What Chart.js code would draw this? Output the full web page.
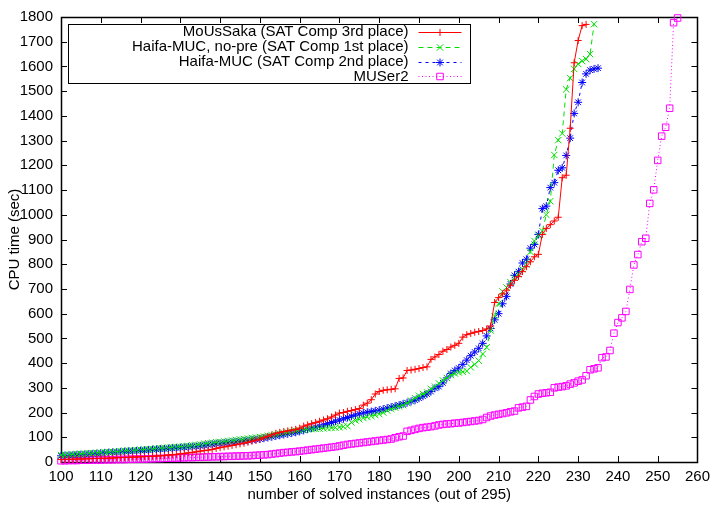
<!DOCTYPE html>
<html><head><meta charset="utf-8">
<script src="https://cdn.jsdelivr.net/npm/chart.js@4/dist/chart.umd.min.js"></script>
<style>html,body{margin:0;padding:0;background:#fff;}canvas{display:block;}</style>
</head><body>
<canvas id="c" width="716" height="506"></canvas>
<script>
// ---- data ----
const firstInstance = 100; // first solved-instance number shown (x of first value in each series)
const seriesNames = [
  'MoUsSaka (SAT Comp 3rd place)',
  'Haifa-MUC, no-pre (SAT Comp 1st place)',
  'Haifa-MUC (SAT Comp 2nd place)',
  'MUSer2'
];
const xTicks = [100,110,120,130,140,150,160,170,180,190,200,210,220,230,240,250,260];
const yTicks = [0,100,200,300,400,500,600,700,800,900,1000,1100,1200,1300,1400,1500,1600,1700,1800];

// CPU time (sec) per solved instance, starting at instance 100
const mousaka = [
  10,10,11,11,12,12,13,13,14,14, 15,15,16,16,17,18,18,19,20,20,
  21,22,22,23,24,25,26,28,29,31, 33,35,37,39,41,44,46,48,51,55,
  58,61,64,67,70,73,76,80,84,88, 92,98,104,110,116,120,123,126,129,132,
  137,145,150,155,160,165,170,175,182,190, 198,200,205,208,212,216,230,238,252,275,
  285,290,292,294,296,338,340,370,372,375, 378,382,385,415,425,435,448,455,465,472,
  480,505,515,520,525,528,532,538,550,645, 665,680,695,715,735,750,770,790,810,830,
  840,920,945,960,975,990,1150,1160,1350,1615, 1705,1765,1770
];
const haifaNoPre = [
  28,29,30,31,32,33,34,35,36,37, 38,39,40,41,42,44,45,46,47,48,
  50,51,52,53,55,56,57,58,60,61, 62,64,65,67,69,71,74,76,78,80,
  81,83,85,87,89,91,93,95,97,99, 101,103,106,108,111,114,117,120,123,126,
  128,130,132,133,134,135,136,137,138,139, 141,143,145,160,168,173,178,182,186,190,
  194,200,208,215,220,225,230,238,248,258, 268,275,282,296,305,318,330,340,352,358,
  362,365,368,383,395,410,437,464,532,590, 640,690,706,727,745,760,780,800,850,894,
  915,934,1000,1055,1242,1302,1329,1507,1553,1590, 1610,1622,1630,1650,1771
];
const haifa = [
  25,26,27,28,29,30,31,32,33,34, 36,37,38,39,40,41,42,43,44,45,
  46,47,48,50,51,52,53,54,56,57, 58,59,61,62,63,65,67,70,72,74,
  75,77,78,80,81,83,85,87,89,91, 93,96,99,102,105,108,111,114,117,120,
  124,128,133,137,141,145,150,155,160,165, 170,175,180,185,190,195,198,201,204,207,
  210,214,218,222,226,230,235,240,245,250, 258,266,275,285,298,305,320,340,358,370,
  380,395,412,430,445,460,480,510,540,575, 600,640,670,720,755,770,805,820,865,880,
  920,1025,1035,1110,1130,1180,1190,1240,1310,1410, 1455,1535,1570,1585,1590,1593
];
const muser2 = [
  5,5,6,6,6,7,7,7,8,8, 8,9,9,9,10,10,10,11,11,12,
  12,12,13,13,14,14,15,15,16,16, 17,17,18,18,19,19,20,20,21,21,
  22,22,23,23,24,24,25,25,26,27, 28,29,30,32,34,36,38,39,41,42,
  44,46,48,50,52,54,56,58,60,62, 65,68,71,73,75,77,79,81,83,85,
  87,89,91,93,98,102,105,124,128,132, 136,139,141,143,146,150,152,154,155,157,
  158,160,162,164,166,168,172,180,186,190, 193,196,199,203,206,219,222,225,251,265,
  275,278,280,282,300,303,305,308,315,320, 327,332,349,373,377,381,422,425,451,521,
  564,583,609,698,797,839,891,905,1046,1101, 1220,1318,1354,1431,1777,1796
];

const colors = ['#ff0000', '#00e000', '#0000ff', '#ff00ff'];
const pointStyles = ['cross', 'crossRot', 'star', 'rect'];
const pointRadii = [3.5, 4.5, 4, 4.6];
const dashes = [[], [5, 4], [3, 4], [1, 2.5]];
const seriesValues = [mousaka, haifaNoPre, haifa, muser2];

const FONT = 'Liberation Sans, Arial, Helvetica, sans-serif';

function toPoints(values) {
  return values.map((v, i) => ({x: firstInstance + i, y: v}));
}

const datasets = seriesValues.map((vals, k) => ({
  label: seriesNames[k],
  data: toPoints(vals),
  borderColor: colors[k],
  backgroundColor: 'rgba(0,0,0,0)',
  borderWidth: 1,
  borderDash: dashes[k],
  pointStyle: pointStyles[k],
  pointRadius: pointRadii[k],
  pointBorderWidth: 1,
  pointBorderColor: colors[k],
  pointBackgroundColor: 'rgba(0,0,0,0)',
  tension: 0,
  fill: false,
  clip: false
}));

const framePlugin = {
  id: 'frame',
  beforeDatasetsDraw(chart) {
    const {ctx, chartArea: a, scales} = chart;
    ctx.save();
    ctx.strokeStyle = '#000';
    ctx.lineWidth = 1;
    ctx.setLineDash([]);
    const L = 6;
    ctx.beginPath();
    xTicks.forEach(t => {
      const px = Math.round(scales.x.getPixelForValue(t)) + 0.5;
      ctx.moveTo(px, a.bottom); ctx.lineTo(px, a.bottom - L);
      ctx.moveTo(px, a.top); ctx.lineTo(px, a.top + L);
    });
    yTicks.forEach(t => {
      const py = Math.round(scales.y.getPixelForValue(t)) + 0.5;
      ctx.moveTo(a.left, py); ctx.lineTo(a.left + L, py);
      ctx.moveTo(a.right, py); ctx.lineTo(a.right - L, py);
    });
    ctx.stroke();
    ctx.lineWidth = 1.5;
    ctx.strokeRect(Math.round(a.left) + 0.5, Math.round(a.top) + 0.5,
                   Math.round(a.right - a.left), Math.round(a.bottom - a.top));
    ctx.restore();
  },
  afterDatasetsDraw(chart) {
    const {ctx, chartArea: a} = chart;
    const boxL = a.left + 7.5, boxT = a.top + 7.5, boxW = 402, boxH = 59;
    ctx.save();
    ctx.fillStyle = '#fff';
    ctx.fillRect(boxL, boxT, boxW, boxH);
    ctx.strokeStyle = '#000';
    ctx.lineWidth = 1;
    ctx.setLineDash([]);
    ctx.strokeRect(boxL, boxT, boxW, boxH);
    ctx.font = '15px ' + FONT;
    ctx.textAlign = 'right';
    ctx.textBaseline = 'middle';
    const textR = boxL + 340, s0 = boxL + 350, s1 = boxL + 393;
    seriesNames.forEach((name, k) => {
      const cy = boxT + 7.5 + k * 14.8;
      ctx.fillStyle = '#000';
      ctx.fillText(name, textR, cy);
      ctx.strokeStyle = colors[k];
      ctx.lineWidth = 1;
      ctx.setLineDash(dashes[k]);
      ctx.beginPath();
      ctx.moveTo(s0, Math.round(cy) + 0.5); ctx.lineTo(s1, Math.round(cy) + 0.5);
      ctx.stroke();
      ctx.setLineDash([]);
      ctx.fillStyle = 'rgba(0,0,0,0)';
      Chart.helpers.drawPoint(ctx, {pointStyle: pointStyles[k], radius: pointRadii[k], rotation: 0, borderWidth: 1},
        (s0 + s1) / 2, Math.round(cy) + 0.5);
    });
    ctx.restore();
  }
};

new Chart(document.getElementById('c'), {
  type: 'line',
  data: {datasets},
  options: {
    responsive: false,
    animation: false,
    devicePixelRatio: 1,
    layout: {padding: {left: 0, right: 15, top: 14, bottom: 0}},
    plugins: {legend: {display: false}, tooltip: {enabled: false}},
    scales: {
      x: {
        type: 'linear', min: 100, max: 260,
        afterFit: s => { s.height = 44; },
        afterBuildTicks: s => { s.ticks = xTicks.map(v => ({value: v})); },
        grid: {display: false, drawTicks: false},
        border: {display: false},
        ticks: {color: '#000', font: {family: FONT, size: 15}, padding: 6, maxRotation: 0, autoSkip: false,
                callback: v => String(v)},
        title: {display: true, text: 'number of solved instances (out of 295)', color: '#000',
                font: {family: FONT, size: 15}, padding: {top: 0, bottom: 2}}
      },
      y: {
        type: 'linear', min: 0, max: 1800,
        afterFit: s => { s.width = 61; },
        afterBuildTicks: s => { s.ticks = yTicks.map(v => ({value: v})); },
        grid: {display: false, drawTicks: false},
        border: {display: false},
        ticks: {color: '#000', font: {family: FONT, size: 15}, padding: 8, autoSkip: false,
                callback: v => String(v)},
        title: {display: true, text: 'CPU time (sec)', color: '#000',
                font: {family: FONT, size: 15}, padding: {top: 6, bottom: 0}}
      }
    }
  },
  plugins: [framePlugin]
});
</script>
</body></html>
